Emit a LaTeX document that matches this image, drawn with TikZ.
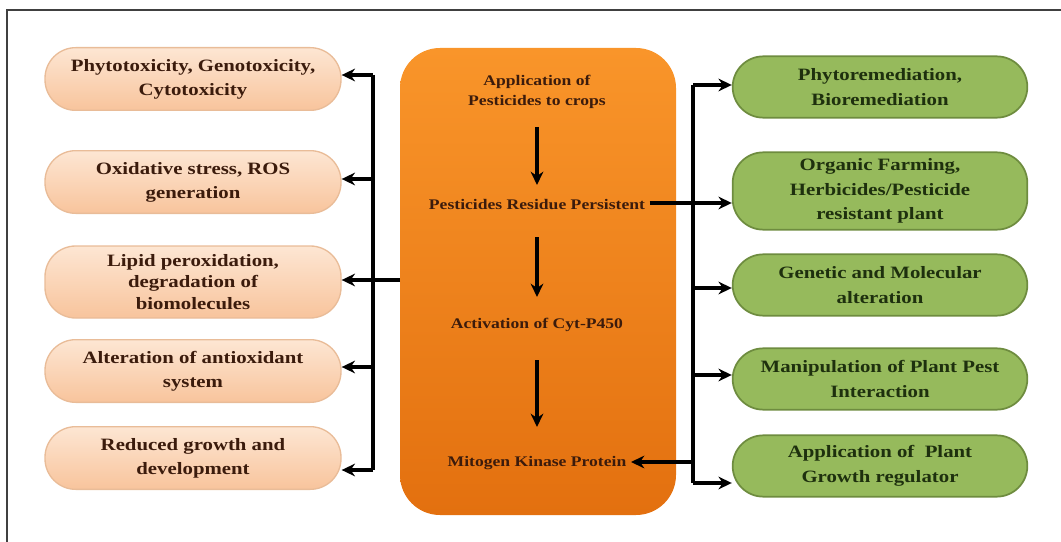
\documentclass[tikz,border=0pt]{standalone}
\usepackage{fontspec}
\setmainfont[FakeStretch=1.2]{Liberation Serif}
\usetikzlibrary{arrows.meta}
\definecolor{peachTop}{HTML}{FDE6D3}
\definecolor{peachBot}{HTML}{F8C49C}
\definecolor{peachLine}{HTML}{E9BC98}
\definecolor{leafFill}{HTML}{96BA5C}
\definecolor{leafLine}{HTML}{6E8C3F}
\definecolor{orangeTop}{HTML}{F9952A}
\definecolor{orangeBot}{HTML}{E3700F}
\definecolor{brownText}{HTML}{3B1B0C}
\definecolor{greenText}{HTML}{1E300E}
\tikzset{
  effect/.style={draw=peachLine, line width=1pt, top color=peachTop,
    bottom color=peachBot, rounded corners=23pt, minimum width=222pt,
    minimum height=47pt, align=center, text=brownText,
    font=\bfseries\fontsize{13}{18}\selectfont},
  remedy/.style={draw=leafLine, line width=1.3pt, fill=leafFill,
    rounded corners=23pt, minimum width=221pt, minimum height=46pt,
    align=center, text=greenText, font=\bfseries\fontsize{13}{18.5}\selectfont},
  stage/.style={align=center, text=brownText,
    font=\bfseries\fontsize{11}{15}\selectfont},
  bus/.style={line width=2.6pt},
  link/.style={line width=2.6pt, -{Stealth[length=10pt,width=9.5pt]}}
}
\begin{document}
\begin{tikzpicture}[x=0.75pt,y=-0.75pt]
\useasboundingbox (0,0) rectangle (1061,542);
% frame
\draw[line width=1.4pt, black!75] (7,542) -- (7,10) -- (1061,10);

% central box
\shade[top color=orangeTop, bottom color=orangeBot, rounded corners=30pt]
  (400,48) rectangle (676,515);
\node[stage] (apply) at (537,92) {Application of\\Pesticides to crops};
\node[stage] (residue) at (537,205) {Pesticides Residue Persistent};
\node[stage] (cyp) at (537,325) {Activation of Cyt-P450};
\node[stage] (kinase) at (537,463) {Mitogen Kinase Protein};
\draw[link] (537,127) -- (537,185);
\draw[link] (537,237) -- (537,297);
\draw[link] (537,360) -- (537,427);

% left side: effects
\node[effect] (phyto) at (193,79) {Phytotoxicity, Genotoxicity,\\Cytotoxicity};
\node[effect] (ros) at (193,182) {Oxidative stress, ROS\\generation};
\node[effect, minimum height=54pt, font=\bfseries\fontsize{13}{16}\selectfont]
  (lipid) at (193,282) {Lipid peroxidation,\\degradation of\\biomolecules};
\node[effect] (antiox) at (193,371) {Alteration of antioxidant\\system};
\node[effect] (growth) at (193,458) {Reduced growth and\\development};

\coordinate (lbus) at (373,280);
\draw[bus] (400,280) -- (lbus);
\draw[bus] (373,75) -- (373,470);
\draw[link] (373,75) -- (phyto.east |- 0,75);
\draw[link] (373,179) -- (ros.east |- 0,179);
\draw[link] (lbus) -- (lipid.east |- 0,280);
\draw[link] (373,367) -- (antiox.east |- 0,367);
\draw[link] (373,470) -- (growth.east |- 0,470);

% right side: remedies
\node[remedy] (bioremed) at (880,87) {Phytoremediation,\\Bioremediation};
\node[remedy, minimum height=58pt] (organic) at (880,191)
  {Organic Farming,\\Herbicides/Pesticide\\resistant plant};
\node[remedy] (genetic) at (880,285) {Genetic and Molecular\\alteration};
\node[remedy] (pest) at (880,379) {Manipulation of Plant Pest\\Interaction};
\node[remedy] (regulator) at (880,466) {Application of~ Plant\\Growth regulator};

\draw[bus] (693,85) -- (693,483);
\draw[link] (693,85) -- (bioremed.west |- 0,85);
\draw[link] (residue.east |- 0,203) -- (organic.west |- 0,203);
\draw[link] (693,288) -- (genetic.west |- 0,288);
\draw[link] (693,375) -- (pest.west |- 0,375);
\draw[link] (693,483) -- (regulator.west |- 0,483);
\draw[link] (693,462) -- (kinase.east |- 0,462);
\end{tikzpicture}
\end{document}
